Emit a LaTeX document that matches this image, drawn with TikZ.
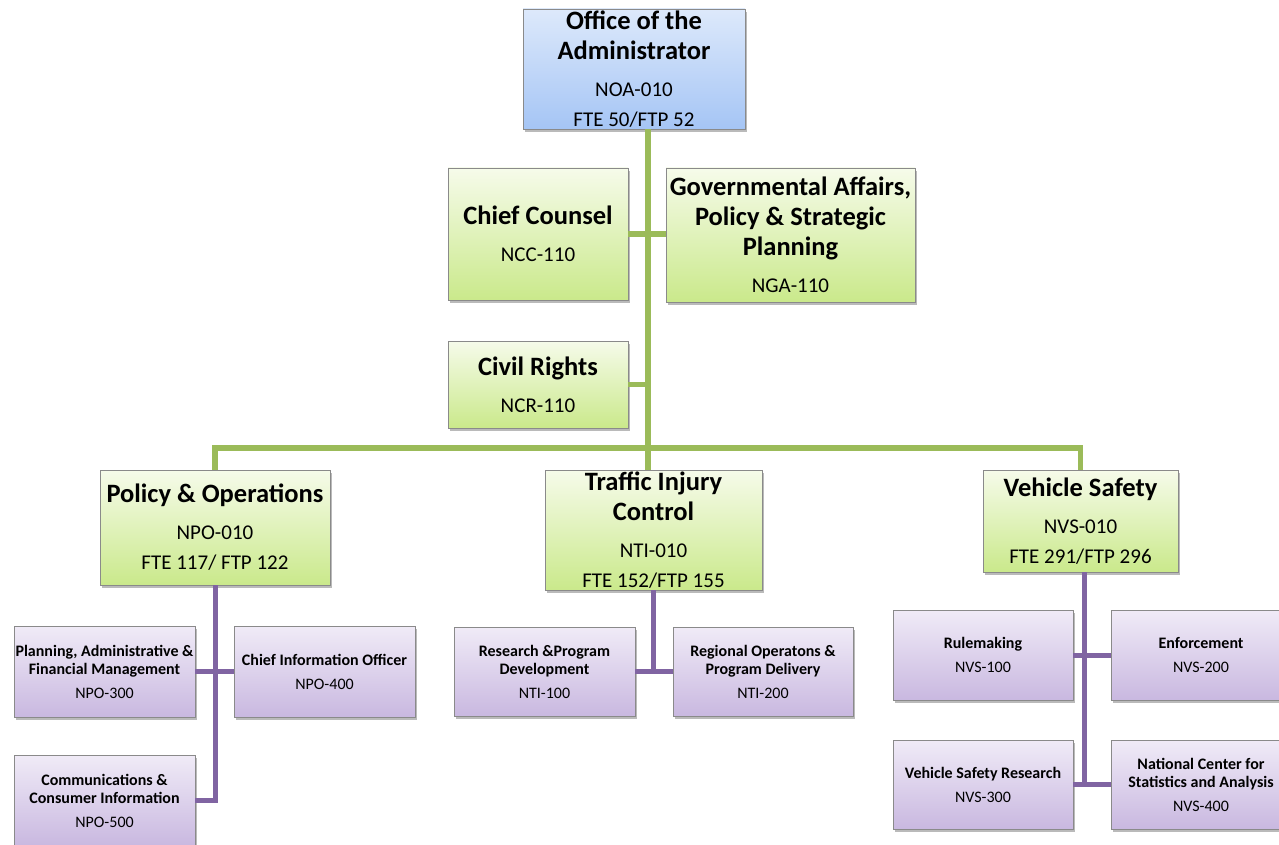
\documentclass[tikz,border=0pt]{standalone}
\usepackage{fontspec}
\setmainfont{Carlito}
\usetikzlibrary{shadows}
\definecolor{gline}{HTML}{9BBB59}
\definecolor{pline}{HTML}{8064A2}
\definecolor{btop}{HTML}{DDE9FB}
\definecolor{bbot}{HTML}{A5C5F5}
\definecolor{gtop}{HTML}{F6FBEA}
\definecolor{gbot}{HTML}{CAE98B}
\definecolor{ptop}{HTML}{F0EBF7}
\definecolor{pbot}{HTML}{C9B8E0}
\definecolor{bord}{HTML}{8A8A8A}
\newcommand{\T}[1]{{\bfseries #1}}
\newcommand{\C}[1]{{\fontsize{21}{30}\selectfont #1}}
\tikzset{
  box/.style={draw=bord, line width=0.8pt, rectangle, inner sep=0pt, align=center,
    drop shadow={shadow xshift=2pt, shadow yshift=-3pt, opacity=0.45, fill=black!60}},
  big/.style={font=\fontsize{26.5}{30}\selectfont},
  small/.style={font=\fontsize{16}{18}\selectfont},
  bbox/.style={box, big, top color=btop, bottom color=bbot},
  gbox/.style={box, big, top color=gtop, bottom color=gbot},
  pbox/.style={box, small, top color=ptop, bottom color=pbot},
  gconn/.style={draw=gline, line width=5.5pt},
  pconn/.style={draw=pline, line width=5pt},
}
\begin{document}
\begin{tikzpicture}[x=1pt,y=-1pt]
\useasboundingbox (0,0) rectangle (1279,845);
\clip (0,0) rectangle (1279,845);
\fill[white] (0,0) rectangle (1279,845);
\coordinate (j1) at (648,448);
\node[bbox, minimum width=222pt, minimum height=120pt] (oa) at (634,69)
  {\T{Office of the}\\ \T{Administrator}\\[7pt]\C{NOA-010}\\ \C{FTE 50/FTP 52}};
\node[gbox, minimum width=180pt, minimum height=132pt] (cc) at (538,234)
  {\T{Chief Counsel}\\[7pt]\C{NCC-110}};
\node[gbox, minimum width=249pt, minimum height=134pt] (ga) at (790.5,235)
  {\T{Governmental Affairs,}\\ \T{Policy \& Strategic}\\ \T{Planning}\\[7pt]\C{NGA-110}};
\node[gbox, minimum width=180pt, minimum height=87pt] (cr) at (538,384.5)
  {\T{Civil Rights}\\[7pt]\C{NCR-110}};
\node[gbox, minimum width=230pt, minimum height=115pt] (po) at (215,527.5)
  {\T{Policy \& Operations}\\[7pt]\C{NPO-010}\\ \C{FTE 117/ FTP 122}};
\node[gbox, minimum width=217pt, minimum height=120pt] (ti) at (653.5,530)
  {\T{Traffic Injury}\\ \T{Control}\\[7pt]\C{NTI-010}\\ \C{FTE 152/FTP 155}};
\node[gbox, minimum width=195pt, minimum height=102pt] (vs) at (1080.5,521)
  {\T{Vehicle Safety}\\[7pt]\C{NVS-010}\\ \C{FTE 291/FTP 296}};
\node[pbox, minimum width=181pt, minimum height=91pt] (pa) at (104.5,671.5)
  {\T{Planning, Administrative \&}\\ \T{Financial Management}\\[6pt]NPO-300};
\node[pbox, minimum width=181pt, minimum height=91pt] (cio) at (324.5,671.5)
  {\T{Chief Information Officer}\\[6pt]NPO-400};
\node[pbox, minimum width=181pt, minimum height=91pt] (cm) at (104.5,800.5)
  {\T{Communications \&}\\ \T{Consumer Information}\\[6pt]NPO-500};
\node[pbox, minimum width=181pt, minimum height=89pt] (rd) at (544.5,671.5)
  {\T{Research \&Program}\\ \T{Development}\\[6pt]NTI-100};
\node[pbox, minimum width=180pt, minimum height=89pt] (ro) at (763,671.5)
  {\T{Regional Operatons \&}\\ \T{Program Delivery}\\[6pt]NTI-200};
\node[pbox, minimum width=180pt, minimum height=90pt] (rm) at (983,655)
  {\T{Rulemaking}\\[6pt]NVS-100};
\node[pbox, minimum width=180pt, minimum height=90pt] (en) at (1201,655)
  {\T{Enforcement}\\[6pt]NVS-200};
\node[pbox, minimum width=180pt, minimum height=89pt] (vr) at (983,784.5)
  {\T{Vehicle Safety Research}\\[6pt]NVS-300};
\node[pbox, minimum width=180pt, minimum height=89pt] (nc) at (1201,784.5)
  {\T{National Center for}\\ \T{Statistics and Analysis}\\[6pt]NVS-400};
% green connectors
\draw[gconn] (oa.south -| j1) -- (ti.north -| j1);
\draw[gconn] (cc.east) -- (cc.east -| ga.west);
\draw[gconn] (cr.east) -- (cr.east -| j1);
\draw[gconn] (po.north) -- (po.north |- j1) -- (vs.north |- j1) -- (vs.north);
% purple connectors
\draw[pconn] (po.south) -- (po.south |- cm.east) -- (cm.east);
\draw[pconn] (pa.east) -- (cio.west);
\draw[pconn] (ti.south) -- (ti.south |- rd.east);
\draw[pconn] (rd.east) -- (ro.west);
\coordinate (vj) at (1084,0);
\draw[pconn] (vs.south -| vj) -- (vr.east -| vj);
\draw[pconn] (rm.east) -- (en.west);
\draw[pconn] (vr.east) -- (nc.west);
\end{tikzpicture}
\end{document}
